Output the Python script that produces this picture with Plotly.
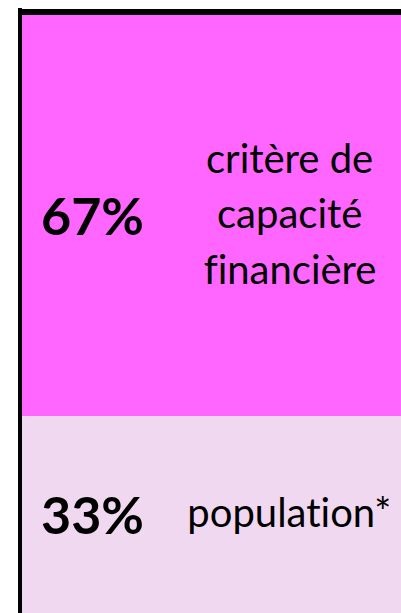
import plotly.graph_objects as go

# Data
categories = ["critère de<br>capacité<br>financière", "population*"]
shares = [67, 33]
share_labels = ["67%", "33%"]
colors = ["#FF66FF", "#F0D9F0"]

# stack order: bottom first
order = [1, 0]

fig = go.Figure()
for i in order:
    fig.add_trace(go.Bar(
        x=[0.5], y=[shares[i]], width=[1.0],
        marker=dict(color=colors[i], line=dict(width=0)),
        hoverinfo="skip", showlegend=False,
    ))

LINE_H = 55.5
annotations = []
base = 0
for i in order:
    mid = base + shares[i] / 2
    annotations.append(dict(
        x=0.185, y=mid, xref="x", yref="y", text="<b>" + share_labels[i] + "</b>",
        showarrow=False, font=dict(family="Lato", size=52, color="black"),
        xanchor="center", yanchor="middle",
    ))
    lines = categories[i].split("<br>")
    n = len(lines)
    for k, line in enumerate(lines):
        annotations.append(dict(
            x=0.706, y=mid, xref="x", yref="y", text=line,
            showarrow=False, font=dict(family="Lato", size=40, color="black"),
            xanchor="center", yanchor="middle", align="center",
            yshift=((n - 1) / 2 - k) * LINE_H + 2,
        ))
    base += shares[i]

W, H = 401, 613
top_px, left_px = 15, 22
total = sum(shares)
ymax = total * H / (H - top_px)
xmin = -left_px / (W - left_px)

fig.update_layout(
    barmode="stack",
    width=W, height=H,
    margin=dict(l=0, r=0, t=0, b=0),
    paper_bgcolor="white", plot_bgcolor="white",
    xaxis=dict(range=[xmin, 1.0], visible=False, fixedrange=True),
    yaxis=dict(range=[0, ymax], visible=False, fixedrange=True),
    bargap=0,
    annotations=annotations,
    shapes=[
        dict(type="rect", xref="paper", yref="paper",
             x0=18 / W, x1=22 / W, y0=0, y1=1 - 8 / H,
             fillcolor="black", line=dict(width=0), layer="above"),
        dict(type="rect", xref="paper", yref="paper",
             x0=18 / W, x1=1, y0=1 - 15 / H, y1=1 - 9 / H,
             fillcolor="black", line=dict(width=0), layer="above"),
    ],
)

fig.write_html(
    "out.html",
    config={"displayModeBar": False},
    post_script=(
        "document.body.style.margin='0';"
        "document.body.style.overflow='hidden';"
        "var st=document.createElement('style');"
        "st.textContent='text{font-variant-ligatures:none;font-feature-settings:\"liga\" 0;}';"
        "document.head.appendChild(st);"
    ),
)
